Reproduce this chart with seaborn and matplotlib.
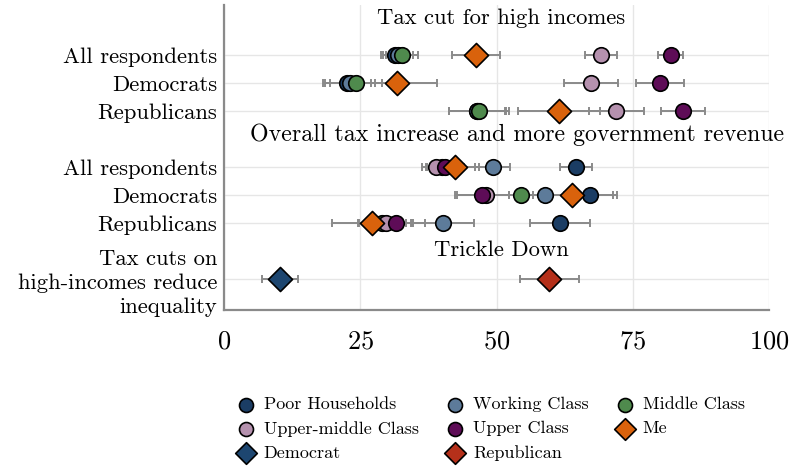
import matplotlib
matplotlib.use("Agg")
import matplotlib.pyplot as plt
import seaborn as sns
import pandas as pd

# groups, colours and markers
groups = ["Poor Households", "Working Class", "Middle Class", "Upper-middle Class",
          "Upper Class", "Me", "Democrat", "Republican"]
colors = ["#1b3d64", "#5d7b9a", "#4f8a4d", "#b591ae", "#5e0c57", "#d9620c", "#1d4670", "#b5301a"]
markers = ["o", "o", "o", "o", "o", "D", "D", "D"]

# row labels and their positions
row_labels = ["All respondents", "Democrats", "Republicans",
              "All respondents", "Democrats", "Republicans",
              "Tax cuts on\nhigh-incomes reduce\ninequality"]
row_pos = [0, 1, 2, 4, 5, 6, 8]

section_titles = ["Tax cut for high incomes",
                  "Overall tax increase and more government revenue",
                  "Trickle Down"]

# (row index, group, mean, half-width of error bar)
rows = [0] * 6 + [1] * 6 + [2] * 6 + [4] * 6 + [5] * 6 + [6] * 6 + [8, 8]
grp = groups[:6] * 6 + ["Democrat", "Republican"]
means = [31.3, 31.9, 32.6, 69.2, 82.0, 46.2,
         22.6, 23.1, 24.2, 67.3, 80.0, 31.8,
         46.4, 46.5, 46.7, 72.0, 84.2, 61.4,
         64.6, 49.3, 40.0, 38.9, 40.6, 42.4,
         67.2, 58.9, 54.4, 48.0, 47.3, 63.8,
         61.7, 40.1, 28.9, 29.7, 31.6, 27.1,
         10.3, 59.7]
errs = [2.5, 2.7, 2.9, 2.9, 2.3, 4.4,
        4.4, 4.6, 4.8, 5.0, 4.4, 7.3,
        5.2, 5.3, 5.5, 5.0, 4.1, 7.5,
        2.9, 3.2, 3.0, 2.6, 3.4, 4.3,
        4.2, 3.4, 2.2, 5.3, 5.0, 8.3,
        5.5, 5.8, 4.4, 4.9, 5.3, 7.3,
        3.3, 5.4]

df = pd.DataFrame({"row": rows, "group": grp, "value": means, "err": errs})

sns.set_style("whitegrid")
plt.rcParams["font.family"] = ["cmr10", "DejaVu Serif"]
plt.rcParams["mathtext.fontset"] = "cm"
plt.rcParams["axes.unicode_minus"] = False
plt.rcParams["axes.formatter.use_mathtext"] = True
plt.rcParams["text.color"] = "black"

fig = plt.figure(figsize=(7.99, 4.66), dpi=100)
ax = fig.add_axes([0.2804, 0.3348, 0.6821, 0.6545])

# error bars behind the markers
ax.errorbar(df["value"], df["row"], xerr=df["err"], fmt="none", ecolor="#8a8a8a",
            elinewidth=1.4, capsize=3.2, capthick=1.4, zorder=2)

for g, c, m in zip(groups, colors, markers):
    sub = df[df["group"] == g]
    sns.scatterplot(x=sub["value"], y=sub["row"], color=c, marker=m,
                    s=150 if m == "D" else 125, edgecolor="black", linewidth=1.2,
                    label=g, zorder=3, ax=ax)

ax.set_xlim(0, 100)
ax.set_ylim(9.1, -1.79)
ax.set_xticks([0, 25, 50, 75, 100])
ax.set_yticks(row_pos)
ax.set_yticklabels(row_labels, fontsize=16.3, linespacing=1.3)
ax.tick_params(axis="x", labelsize=19, length=5, color="#8a8a8a", width=1.2, pad=9,
               labelcolor="black")
ax.tick_params(axis="y", length=4, color="#e0e0e0", pad=1, labelcolor="black")
ax.set_xlabel("")
ax.set_ylabel("")
ax.grid(color="#e6e6e6", linewidth=1)

for s in ["top", "right"]:
    ax.spines[s].set_visible(False)
for s in ["left", "bottom"]:
    ax.spines[s].set_color("#8a8a8a")
    ax.spines[s].set_linewidth(1.6)

# section headings
ax.text(50.8, -1.32, section_titles[0], ha="center", va="center", fontsize=16.3)
ax.text(53.8, 2.86, section_titles[1], ha="center", va="center", fontsize=17.2)
ax.text(50.8, 6.96, section_titles[2], ha="center", va="center", fontsize=16.3)

# legend, row-wise order in three columns
h, l = ax.get_legend_handles_labels()
order = [0, 3, 6, 1, 4, 7, 2, 5]
ax.legend([h[i] for i in order], [l[i] for i in order], ncol=3, frameon=False,
          loc="upper center", bbox_to_anchor=(0.486, -0.231), fontsize=13,
          handlelength=1.4, handletextpad=0.3, columnspacing=1.3,
          labelspacing=0.47, markerscale=0.9)

fig.savefig("out.png", dpi=100)
